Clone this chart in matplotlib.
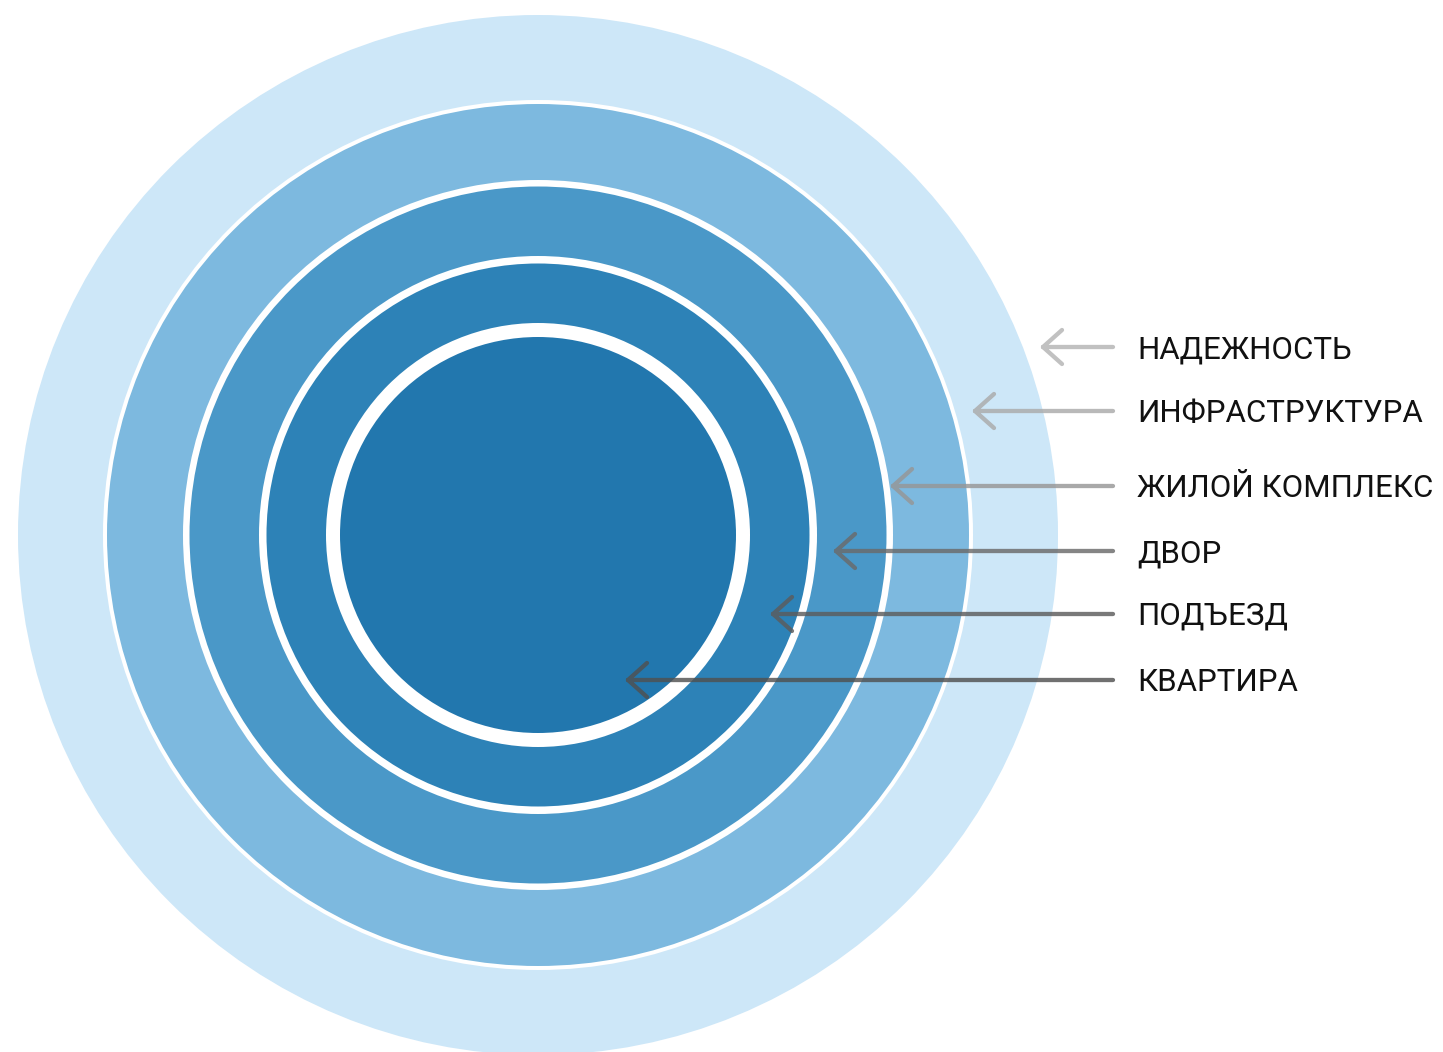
import numpy as np
import matplotlib
matplotlib.use("Agg")
import matplotlib.pyplot as plt
from matplotlib.patches import Circle

# слои (от внешнего к внутреннему)
layers = ["НАДЕЖНОСТЬ", "ИНФРАСТРУКТУРА", "ЖИЛОЙ КОМПЛЕКС", "ДВОР", "ПОДЪЕЗД", "КВАРТИРА"]
ring_radius = [520, 431, 348.5, 271.5, 198]
gap_radius = [None, 435, 355, 279, 212]
ring_colors = ["#cde7f8", "#7db9df", "#4a98c8", "#2d82b7", "#2277ae"]

label_y = [347, 411, 486, 551, 614, 680]
arrow_tip = [1043, 975, 893, 836, 773, 628]
arrow_gray = ["#b4b4b4", "#aaaaaa", "#969696", "#6a6a6a", "#5c5c5c", "#505050"]

cx, cy = 538, 535

fig = plt.figure(figsize=(14.43, 10.52), dpi=100)
ax = fig.add_axes([0, 0, 1, 1])
ax.set_xlim(0, 1443)
ax.set_ylim(1052, 0)
ax.set_aspect("equal")
ax.axis("off")

for r, g, c in zip(ring_radius, gap_radius, ring_colors):
    if g is not None:
        ax.add_patch(Circle((cx, cy), g, color="white", lw=0))
    ax.add_patch(Circle((cx, cy), r, color=c, lw=0))

lw = 4.3 * 72 / 100
for name, y, tip, col in zip(layers, label_y, arrow_tip, arrow_gray):
    xs = [1113, tip, tip + 19, np.nan, tip + 19, tip]
    ys = [y, y, y - 17, np.nan, y + 17, y]
    ax.plot(xs, ys, color=col, lw=lw, alpha=0.82,
            solid_capstyle="round", solid_joinstyle="round")
    ax.text(1137, y + 11, name, fontsize=22.5, family=["Roboto", "DejaVu Sans"],
            color="#111111", va="baseline", ha="left")

fig.savefig("out.png", dpi=100)
